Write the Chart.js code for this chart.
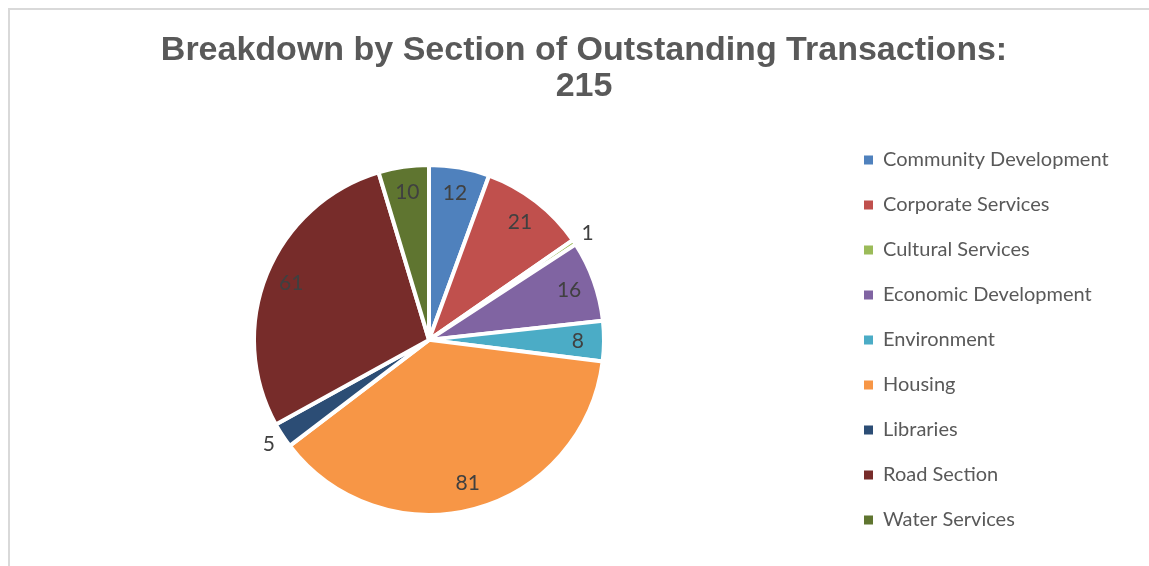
<!DOCTYPE html>
<html>
<head>
<meta charset="utf-8">
<script src="https://cdn.jsdelivr.net/npm/chart.js@4/dist/chart.umd.min.js"></script>
<style>
  html, body { margin: 0; padding: 0; background: #fff; overflow: hidden; }
  .frame {
    position: absolute; left: 8px; top: 8px; right: 0; bottom: 0;
    border-top: 2px solid #d9d9d9; border-left: 2px solid #d9d9d9;
  }
  .wrap { position: absolute; left: 0; top: 0; width: 1149px; height: 566px; }
</style>
</head>
<body>
<div class="frame"></div>
<div class="wrap"><canvas id="pie"></canvas></div>
<script>
// данные диаграммы
const sections = [
  'Community Development', 'Corporate Services', 'Cultural Services',
  'Economic Development', 'Environment', 'Housing', 'Libraries',
  'Road Section', 'Water Services'
];
const counts = [12, 21, 1, 16, 8, 81, 5, 61, 10];
const colors = ['#4F81BD', '#C0504D', '#9BBB59', '#8064A2', '#4BACC6', '#F79646', '#2C4D75', '#772C2A', '#5F7530'];
const titleLines = ['Breakdown by Section of Outstanding Transactions:', '215'];

// подписи значений: внутри сектора, маленькие - снаружи
const sliceLabels = {
  id: 'sliceLabels',
  afterDatasetsDraw(chart) {
    const ctx = chart.ctx;
    const meta = chart.getDatasetMeta(0);
    const values = chart.data.datasets[0].data;
    const total = values.reduce((a, b) => a + b, 0);
    ctx.save();
    ctx.font = '21px Lato';
    ctx.fillStyle = '#404040';
    ctx.textAlign = 'center';
    ctx.textBaseline = 'middle';
    meta.data.forEach((arc, i) => {
      const { x, y, startAngle, endAngle, outerRadius } = arc.getProps(['x', 'y', 'startAngle', 'endAngle', 'outerRadius'], true);
      const mid = (startAngle + endAngle) / 2;
      const r = values[i] / total < 0.03 ? outerRadius + 16 : outerRadius * 0.85;
      ctx.fillText(values[i], x + Math.cos(mid) * r, y + Math.sin(mid) * r);
    });
    ctx.restore();
  }
};

// расширяем легенду, чтобы пирог встал левее
const legendWidth = {
  id: 'legendWidth',
  beforeInit(chart) {
    const fit = chart.legend.fit;
    chart.legend.fit = function () {
      fit.call(this);
      this.width = 310;
    };
  }
};

new Chart(document.getElementById('pie'), {
  type: 'pie',
  data: {
    labels: sections,
    datasets: [{
      data: counts,
      backgroundColor: colors,
      borderColor: '#ffffff',
      borderWidth: 4,
      radius: 175
    }]
  },
  options: {
    responsive: true,
    maintainAspectRatio: false,
    animation: false,
    layout: { padding: { left: 19, right: 0, top: 0, bottom: 0 } },
    plugins: {
      title: {
        display: true,
        text: titleLines,
        color: '#595959',
        font: { family: 'Liberation Sans', size: 34, weight: 'bold', lineHeight: 1.07 },
        padding: { top: 32, bottom: 9 }
      },
      legend: {
        position: 'right',
        align: 'center',
        fullSize: false,
        labels: {
          boxWidth: 9,
          boxHeight: 9,
          padding: 25,
          color: '#595959',
          font: { family: 'Lato', size: 20 },
          generateLabels(chart) {
            // квадратики без белой обводки
            return Chart.controllers.pie.overrides.plugins.legend.labels.generateLabels(chart)
              .map(item => ({ ...item, lineWidth: 0 }));
          }
        }
      },
      tooltip: { enabled: false }
    }
  },
  plugins: [sliceLabels, legendWidth]
});
</script>
</body>
</html>
